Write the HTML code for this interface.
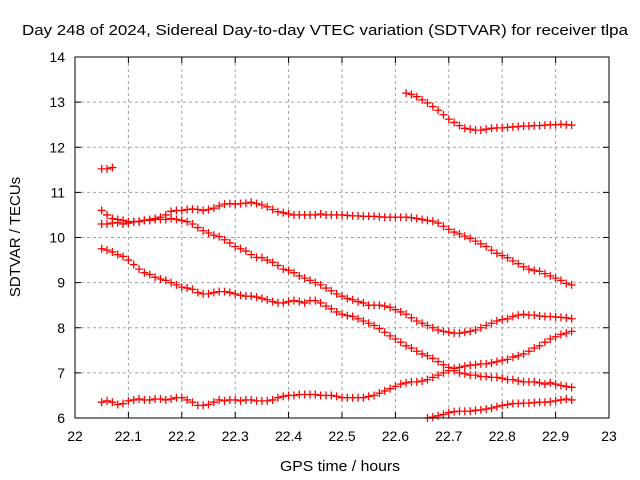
<!DOCTYPE html>
<html><head><meta charset="utf-8"><style>
html,body{margin:0;padding:0;background:#fff;}
svg{display:block;font-family:"Liberation Sans",sans-serif;}
</style></head><body>
<svg id="chart" width="640" height="480" xmlns="http://www.w3.org/2000/svg">
<rect width="640" height="480" fill="#fff"/>
<text x="22" y="35" font-size="15" textLength="606" lengthAdjust="spacingAndGlyphs">Day 248 of 2024, Sidereal Day-to-day VTEC variation (SDTVAR) for receiver tlpa</text>
<text x="280" y="471" font-size="15" textLength="120" lengthAdjust="spacingAndGlyphs">GPS time / hours</text>
<text x="0" y="0" transform="translate(20,237) rotate(-90)" text-anchor="middle" font-size="15">SDTVAR / TECUs</text>
<g id="grid"></g>
<g id="ticks"></g>
<g id="marks"></g>
<rect x="75" y="57" width="534" height="361" fill="none" stroke="#000" stroke-width="1"/>
</svg>
<script>
const xTicks = [22,22.1,22.2,22.3,22.4,22.5,22.6,22.7,22.8,22.9,23];
const xTickLabels = ["22","22.1","22.2","22.3","22.4","22.5","22.6","22.7","22.8","22.9","23"];
const yTicks = [6,7,8,9,10,11,12,13,14];
const stepHours = 0.01;
const seriesStarts = [22.05,22.62,22.05,22.05,22.05,22.05,22.66];
const seriesA = [11.52,11.52,11.55];
const seriesB = [13.2,13.17,13.12,13.05,12.98,12.9,12.82,12.72,12.62,12.55,12.48,12.42,12.4,12.38,12.38,12.4,12.42,12.43,12.43,12.44,12.45,12.46,12.47,12.47,12.48,12.48,12.49,12.5,12.5,12.51,12.5,12.49];
const seriesC = [10.3,10.3,10.32,10.33,10.3,10.32,10.35,10.35,10.38,10.4,10.42,10.45,10.5,10.58,10.6,10.6,10.62,10.63,10.62,10.6,10.62,10.65,10.7,10.74,10.75,10.74,10.75,10.76,10.78,10.75,10.72,10.68,10.62,10.57,10.55,10.52,10.5,10.5,10.5,10.5,10.5,10.52,10.5,10.5,10.5,10.5,10.49,10.48,10.48,10.47,10.47,10.47,10.46,10.45,10.45,10.45,10.45,10.45,10.44,10.42,10.4,10.38,10.36,10.32,10.25,10.18,10.12,10.08,10.03,9.98,9.92,9.86,9.8,9.72,9.65,9.6,9.55,9.48,9.42,9.35,9.3,9.27,9.25,9.2,9.15,9.1,9.05,8.98,8.95];
const seriesD = [10.6,10.5,10.42,10.4,10.38,10.35,10.35,10.36,10.38,10.38,10.4,10.4,10.4,10.42,10.4,10.38,10.35,10.3,10.22,10.15,10.1,10.05,10.02,9.95,9.88,9.8,9.75,9.7,9.62,9.56,9.55,9.5,9.45,9.38,9.3,9.27,9.22,9.15,9.1,9.05,9.0,8.95,8.88,8.82,8.75,8.7,8.65,8.62,8.58,8.55,8.5,8.5,8.5,8.48,8.45,8.4,8.35,8.3,8.22,8.15,8.1,8.05,8.0,7.95,7.92,7.9,7.88,7.88,7.9,7.92,7.95,8.0,8.05,8.1,8.15,8.18,8.2,8.25,8.28,8.3,8.28,8.28,8.26,8.25,8.25,8.24,8.23,8.22,8.2];
const seriesE = [9.75,9.72,9.68,9.62,9.58,9.5,9.4,9.3,9.22,9.18,9.12,9.08,9.05,9.0,8.95,8.9,8.88,8.85,8.78,8.75,8.75,8.78,8.8,8.8,8.78,8.75,8.72,8.7,8.7,8.68,8.65,8.62,8.58,8.55,8.55,8.58,8.6,8.58,8.55,8.6,8.6,8.55,8.48,8.42,8.35,8.3,8.27,8.25,8.2,8.15,8.1,8.05,7.98,7.9,7.82,7.75,7.68,7.6,7.55,7.48,7.42,7.38,7.32,7.25,7.18,7.12,7.05,7.0,6.98,6.95,6.95,6.92,6.92,6.9,6.9,6.88,6.85,6.85,6.82,6.8,6.8,6.8,6.78,6.75,6.78,6.75,6.72,6.7,6.68];
const seriesF = [6.35,6.38,6.35,6.3,6.32,6.38,6.4,6.42,6.4,6.4,6.42,6.42,6.4,6.42,6.45,6.45,6.4,6.35,6.28,6.28,6.3,6.35,6.4,6.38,6.4,6.4,6.38,6.4,6.4,6.38,6.38,6.38,6.4,6.45,6.48,6.5,6.5,6.52,6.52,6.52,6.52,6.5,6.5,6.5,6.48,6.45,6.45,6.45,6.45,6.45,6.48,6.5,6.55,6.6,6.65,6.7,6.75,6.78,6.8,6.8,6.82,6.85,6.9,6.95,7.0,7.05,7.1,7.12,7.15,7.17,7.18,7.2,7.2,7.22,7.25,7.28,7.3,7.35,7.38,7.42,7.48,7.55,7.6,7.68,7.75,7.8,7.85,7.88,7.92];
const seriesG = [6.0,6.02,6.05,6.08,6.12,6.14,6.15,6.15,6.15,6.17,6.18,6.2,6.22,6.25,6.28,6.3,6.32,6.32,6.33,6.33,6.34,6.35,6.35,6.36,6.38,6.4,6.42,6.4];

const NS="http://www.w3.org/2000/svg";
const L=75,R=609,T=57,B=418;
const xs=v=>L+(v-22)/(23-22)*(R-L);
const ys=v=>B-(v-6)/(14-6)*(B-T);
function mk(tag,attrs,parent){const e=document.createElementNS(NS,tag);for(const k in attrs)e.setAttribute(k,attrs[k]);parent.appendChild(e);return e;}
const grid=document.getElementById('grid'),ticks=document.getElementById('ticks'),marks=document.getElementById('marks');
xTicks.forEach((t,i)=>{
  const x=xs(t);
  if(i>0&&i<xTicks.length-1){
    const g=mk('line',{x1:x,x2:x,y1:T,y2:B,stroke:'#a0a0a0','stroke-dasharray':'3,3'},grid);
    
    
  }
  const a=mk('line',{x1:x,x2:x,y1:B,y2:B-6,stroke:'#000'},ticks);
  
  
  const b=mk('line',{x1:x,x2:x,y1:T,y2:T+6,stroke:'#000'},ticks);
  
  
  const tx=mk('text',{x:x,y:B+23,'text-anchor':'middle','font-size':'14'},ticks);
  tx.textContent=xTickLabels[i];
  
  
});
yTicks.forEach((t,i)=>{
  const y=ys(t);
  if(i>0&&i<yTicks.length-1){
    const g=mk('line',{x1:L,x2:R,y1:y,y2:y,stroke:'#a0a0a0','stroke-dasharray':'3,3'},grid);
    
    
  }
  const a=mk('line',{x1:L,x2:L+6,y1:y,y2:y,stroke:'#000'},ticks);
  
  
  const b=mk('line',{x1:R,x2:R-6,y1:y,y2:y,stroke:'#000'},ticks);
  
  
  const tx=mk('text',{x:L-10,y:y+5,'text-anchor':'end','font-size':'14'},ticks);
  tx.textContent=String(t);
  
  
});
const allSeries=[seriesA,seriesB,seriesC,seriesD,seriesE,seriesF,seriesG];
allSeries.forEach((s,si)=>{
  let d='';
  s.forEach((v,i)=>{
    const x=xs(seriesStarts[si]+i*stepHours),y=ys(v);
    d+=`M${x-4},${y}h8M${x},${y-4}v8`;
  });
  const p=mk('path',{d:d,stroke:'#ff0000','stroke-width':'1.3',fill:'none'},marks);
  
  
});
</script>
</body></html>
